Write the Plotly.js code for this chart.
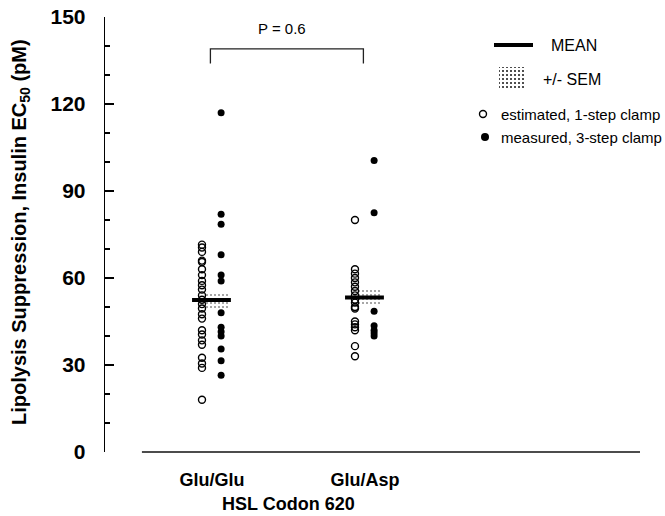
<!DOCTYPE html>
<html>
<head>
<meta charset="utf-8">
<script src="https://cdn.plot.ly/plotly-3.0.1.min.js"></script>
<style>html,body{margin:0;padding:0;background:#fff;}#chart{width:665px;height:516px;}</style>
</head>
<body>
<div id="chart"></div>
<script>
// ---- data ----
const categories = ['Glu/Glu', 'Glu/Asp'];
const catPos = [1, 2];
const estimatedGluGlu = [71.5, 70.5, 69, 66, 65.5, 63, 61, 59, 57.5, 56, 54, 52.5, 51, 49.5, 47.5, 46, 42, 40.5, 38.5, 37, 32.5, 30.5, 29, 18];
const measuredGluGlu = [117, 82, 78.5, 68, 61, 59, 48, 43, 41.5, 40, 35.5, 31.5, 26.5];
const estimatedGluAsp = [80, 63, 61.5, 60, 58.5, 57, 55.5, 54, 52.5, 51.5, 50, 49.5, 45, 44, 43, 42, 36.5, 33];
const measuredGluAsp = [100.5, 82.5, 48.5, 43.5, 42, 41, 40];
const meanValues = [52.4, 53.3];
const semValues = [2.6, 2.9];
const pValueText = 'P = 0.6';
const yTicks = [0, 30, 60, 90, 120, 150];

const FONT = 'Liberation Sans, Arial, Helvetica, sans-serif';
const estimated = [estimatedGluGlu, estimatedGluAsp];
const measured = [measuredGluGlu, measuredGluAsp];
const stipple = {shape: '.', size: 4, solidity: 0.22, fgcolor: '#222', bgcolor: 'rgba(255,255,255,0)'};

const traces = [];
// SEM shaded boxes
traces.push({
  type: 'bar',
  x: catPos.map(p => p + 0.03),
  base: meanValues.map((m, i) => m - semValues[i]),
  y: semValues.map(s => 2 * s),
  width: 0.165,
  marker: {
    color: 'rgba(255,255,255,0)',
    line: {width: 0},
    pattern: Object.assign({fillmode: 'overlay'}, stipple)
  },
  hoverinfo: 'skip', showlegend: false
});
// points
catPos.forEach((p, i) => {
  traces.push({
    type: 'scatter', mode: 'markers',
    x: estimated[i].map(() => p - 0.065), y: estimated[i],
    marker: {symbol: 'circle-open', size: 7, color: '#000', line: {width: 1.4, color: '#000'}},
    showlegend: false, hoverinfo: 'y'
  });
  traces.push({
    type: 'scatter', mode: 'markers',
    x: measured[i].map(() => p + 0.06), y: measured[i],
    marker: {symbol: 'circle', size: 7, color: '#000'},
    showlegend: false, hoverinfo: 'y'
  });
});
// mean bars
catPos.forEach((p, i) => {
  traces.push({
    type: 'scatter', mode: 'lines',
    x: [p - 0.13, p + 0.124], y: [meanValues[i], meanValues[i]],
    line: {color: '#000', width: 4},
    showlegend: false, hoverinfo: 'skip'
  });
});

// ---- manual legend (pixel-like overlay axes) ----
traces.push({type: 'scatter', mode: 'lines', xaxis: 'x2', yaxis: 'y2',
  x: [494, 533], y: [45, 45], line: {color: '#000', width: 4}, showlegend: false, hoverinfo: 'skip'});
traces.push({type: 'scatter', mode: 'lines', xaxis: 'x2', yaxis: 'y2',
  x: [499, 526, 526, 499, 499], y: [67, 67, 89, 89, 67], fill: 'toself',
  fillcolor: 'rgba(255,255,255,0)', line: {width: 0},
  fillpattern: stipple,
  showlegend: false, hoverinfo: 'skip'});
traces.push({type: 'scatter', mode: 'markers', xaxis: 'x2', yaxis: 'y2',
  x: [483], y: [114], marker: {symbol: 'circle-open', size: 7, color: '#000', line: {width: 1.4, color: '#000'}},
  showlegend: false, hoverinfo: 'skip'});
traces.push({type: 'scatter', mode: 'markers', xaxis: 'x2', yaxis: 'y2',
  x: [485], y: [137], marker: {symbol: 'circle', size: 8, color: '#000'},
  showlegend: false, hoverinfo: 'skip'});

const legendText = (txt, x, y, size) => ({
  text: txt, xref: 'x2', yref: 'y2', x: x, y: y, xanchor: 'left', yanchor: 'middle',
  showarrow: false, font: {family: FONT, size: size, color: '#000'}
});

const layout = {
  width: 665, height: 516,
  margin: {l: 105, r: 25, t: 17, b: 64, pad: 0},
  paper_bgcolor: '#fff', plot_bgcolor: '#fff',
  font: {family: FONT, color: '#000'},
  showlegend: false,
  bargap: 0,
  xaxis: {
    range: [0.301, 3.798], showline: false, showgrid: false, zeroline: false,
    tickvals: catPos, ticktext: categories, ticks: '',
    tickfont: {family: FONT, size: 18, weight: 'bold', color: '#000'},
    ticklabelstandoff: 15, fixedrange: true
  },
  yaxis: {
    range: [0, 150], showline: true, linecolor: '#000', linewidth: 1.3,
    showgrid: false, zeroline: false,
    tickvals: yTicks, ticks: 'inside', ticklen: 9, tickwidth: 1.2, tickcolor: '#000',
    minor: {dtick: 10, ticks: 'inside', ticklen: 5, tickwidth: 1.2, tickcolor: '#000'},
    tickfont: {family: FONT, size: 21, weight: 'bold', color: '#000'},
    ticklabelstandoff: 14, fixedrange: true
  },
  xaxis2: {overlaying: 'x', anchor: 'y2', range: [105, 640], visible: false, fixedrange: true},
  yaxis2: {overlaying: 'y', anchor: 'x2', range: [452, 17], visible: false, fixedrange: true},
  shapes: [
    // detached x axis line
    {type: 'line', xref: 'paper', yref: 'paper', x0: 0.069, x1: 1, y0: 0, y1: 0,
     line: {color: '#111', width: 1.5}},
    // significance bracket
    {type: 'path', xref: 'x', yref: 'y',
     path: 'M 0.99 134 L 0.99 139 L 1.99 139 L 1.99 134',
     line: {color: '#222', width: 1.3}}
  ],
  annotations: [
    {text: 'Lipolysis Suppression, Insulin EC<sub>50</sub> (pM)', xref: 'paper', yref: 'paper',
     x: (21 - 105) / 535, y: (452 - 232) / 435, textangle: -90, xanchor: 'center', yanchor: 'middle',
     showarrow: false, font: {family: FONT, size: 20, weight: 'bold', color: '#000'}},
    {text: 'HSL Codon 620', xref: 'x', yref: 'paper', x: 1.5, y: (452 - 504) / 435,
     xanchor: 'center', yanchor: 'middle', showarrow: false,
     font: {family: FONT, size: 18, weight: 'bold', color: '#000'}},
    {text: pValueText, xref: 'x', yref: 'y', x: 1.46, y: 146, xanchor: 'center', yanchor: 'middle',
     showarrow: false, font: {family: FONT, size: 15, color: '#000'}},
    legendText('MEAN', 549, 45, 16),
    legendText('+/- SEM', 541, 79, 16),
    legendText('estimated, 1-step clamp', 499, 114, 15),
    legendText('measured, 3-step clamp', 499, 137, 15)
  ]
};

Plotly.newPlot('chart', traces, layout, {displayModeBar: false, staticPlot: true});
</script>
</body>
</html>
